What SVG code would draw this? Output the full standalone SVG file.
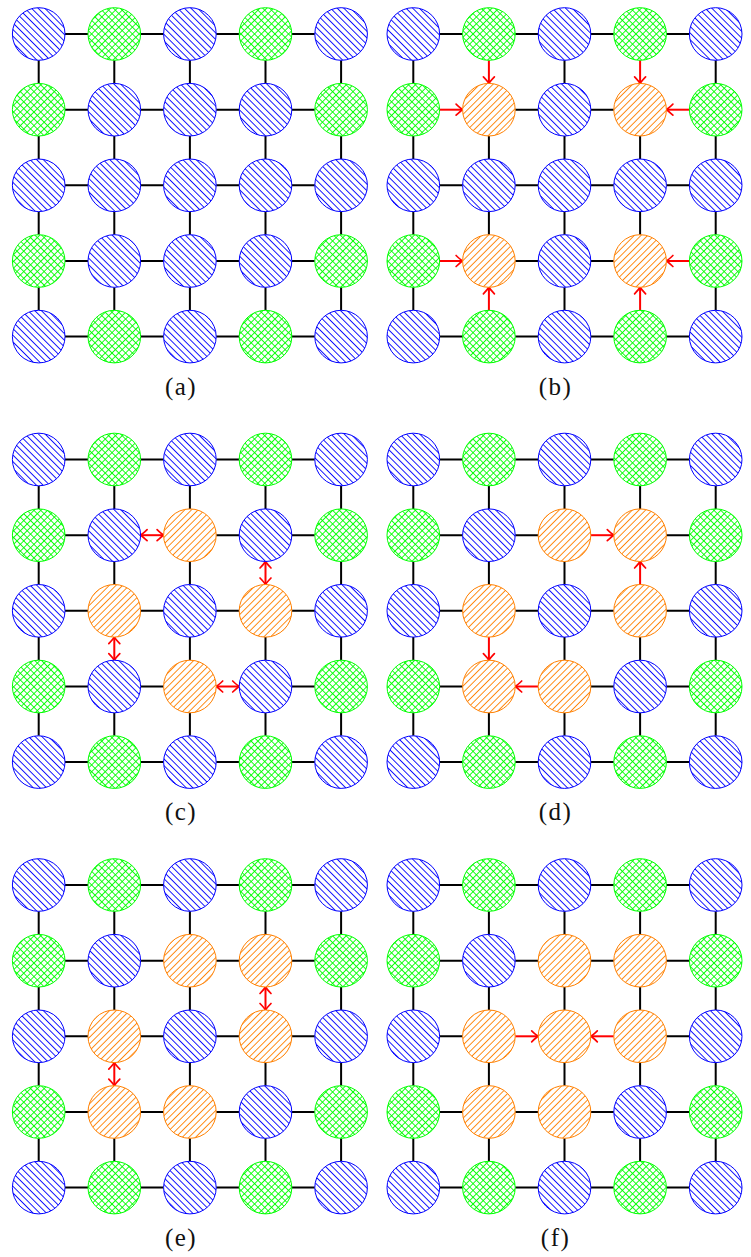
<svg xmlns="http://www.w3.org/2000/svg" width="751" height="1257" viewBox="0 0 751 1257">
<style>
.B{fill:url(#pB);stroke:#0000ff;stroke-width:1}
.G{fill:url(#pG);stroke:#00ff00;stroke-width:1}
.O{fill:url(#pO);stroke:#ff8000;stroke-width:1}
.e{fill:none;stroke:#000;stroke-width:2}
.a{fill:none;stroke:#ff0000;stroke-width:2;marker-end:url(#ah)}
.d{fill:none;stroke:#ff0000;stroke-width:2;marker-end:url(#ah);marker-start:url(#ah)}
.lbl{font-family:"Liberation Serif","Times New Roman",serif;font-size:25px;letter-spacing:1.5px;text-anchor:middle;fill:#111}
</style>
<defs>
<pattern id="pB" width="4.7" height="4.7" patternUnits="userSpaceOnUse" patternTransform="rotate(45)"><rect width="4.7" height="4.7" fill="#fff"/><line x1="-1" y1="2.35" x2="5.7" y2="2.35" stroke="#0000ff" stroke-width="0.9"/></pattern>
<pattern id="pO" width="4.7" height="4.7" patternUnits="userSpaceOnUse" patternTransform="rotate(-45)"><rect width="4.7" height="4.7" fill="#fff"/><line x1="-1" y1="2.35" x2="5.7" y2="2.35" stroke="#ff8000" stroke-width="0.9"/></pattern>
<pattern id="pG" width="4.8" height="4.8" patternUnits="userSpaceOnUse" patternTransform="rotate(45)"><rect width="4.8" height="4.8" fill="#fff"/><line x1="-1" y1="2.4" x2="5.8" y2="2.4" stroke="#00ff00" stroke-width="0.9"/><line x1="2.4" y1="-1" x2="2.4" y2="5.8" stroke="#00ff00" stroke-width="0.9"/></pattern>
<marker id="ah" viewBox="-8 -7 10 14" refX="0" refY="0" markerWidth="10" markerHeight="14" markerUnits="userSpaceOnUse" orient="auto-start-reverse" overflow="visible"><path d="M-6.5,-5.5 Q-2,-1.2 0,0 Q-2,1.2 -6.5,5.5" fill="none" stroke="#ff0000" stroke-width="1.7" stroke-linecap="round"/></marker>
</defs>
<rect width="751" height="1257" fill="#fff"/>
<g id="connectors">
<g id="edges-a">
<path class="e" d="M65 34H88M140.6 34H163.6M216.2 34H239.2M291.8 34H314.8M65 109.7H88M140.6 109.7H163.6M216.2 109.7H239.2M291.8 109.7H314.8M65 185.3H88M140.6 185.3H163.6M216.2 185.3H239.2M291.8 185.3H314.8M65 261H88M140.6 261H163.6M216.2 261H239.2M291.8 261H314.8M65 336.6H88M140.6 336.6H163.6M216.2 336.6H239.2M291.8 336.6H314.8M38.7 60.3V83.4M38.7 136V159M38.7 211.6V234.7M38.7 287.3V310.3M114.3 60.3V83.4M114.3 136V159M114.3 211.6V234.7M114.3 287.3V310.3M189.9 60.3V83.4M189.9 136V159M189.9 211.6V234.7M189.9 287.3V310.3M265.5 60.3V83.4M265.5 136V159M265.5 211.6V234.7M265.5 287.3V310.3M341.1 60.3V83.4M341.1 136V159M341.1 211.6V234.7M341.1 287.3V310.3"/>
</g>
<g id="edges-b" transform="translate(374.6,0)">
<path class="e" d="M65 34H88M140.6 34H163.6M216.2 34H239.2M291.8 34H314.8M140.6 109.7H163.6M216.2 109.7H239.2M65 185.3H88M140.6 185.3H163.6M216.2 185.3H239.2M291.8 185.3H314.8M140.6 261H163.6M216.2 261H239.2M65 336.6H88M140.6 336.6H163.6M216.2 336.6H239.2M291.8 336.6H314.8M38.7 60.3V83.4M38.7 136V159M38.7 211.6V234.7M38.7 287.3V310.3M114.3 136V159M114.3 211.6V234.7M189.9 60.3V83.4M189.9 136V159M189.9 211.6V234.7M189.9 287.3V310.3M265.5 136V159M265.5 211.6V234.7M341.1 60.3V83.4M341.1 136V159M341.1 211.6V234.7M341.1 287.3V310.3"/>
<path class="a" d="M114.3 60.3V83.4"/>
<path class="a" d="M65 109.7H88"/>
<path class="a" d="M265.5 60.3V83.4"/>
<path class="a" d="M314.8 109.7H291.8"/>
<path class="a" d="M65 261H88"/>
<path class="a" d="M114.3 310.3V287.3"/>
<path class="a" d="M314.8 261H291.8"/>
<path class="a" d="M265.5 310.3V287.3"/>
</g>
<g id="edges-c" transform="translate(0,425.5)">
<path class="e" d="M65 34H88M140.6 34H163.6M216.2 34H239.2M291.8 34H314.8M65 109.7H88M216.2 109.7H239.2M291.8 109.7H314.8M65 185.3H88M140.6 185.3H163.6M216.2 185.3H239.2M291.8 185.3H314.8M65 261H88M140.6 261H163.6M291.8 261H314.8M65 336.6H88M140.6 336.6H163.6M216.2 336.6H239.2M291.8 336.6H314.8M38.7 60.3V83.4M38.7 136V159M38.7 211.6V234.7M38.7 287.3V310.3M114.3 60.3V83.4M114.3 136V159M114.3 287.3V310.3M189.9 60.3V83.4M189.9 136V159M189.9 211.6V234.7M189.9 287.3V310.3M265.5 60.3V83.4M265.5 211.6V234.7M265.5 287.3V310.3M341.1 60.3V83.4M341.1 136V159M341.1 211.6V234.7M341.1 287.3V310.3"/>
<path class="d" d="M140.6 109.7H163.6"/>
<path class="d" d="M265.5 136V159"/>
<path class="d" d="M114.3 211.6V234.7"/>
<path class="d" d="M216.2 261H239.2"/>
</g>
<g id="edges-d" transform="translate(374.6,425.5)">
<path class="e" d="M65 34H88M140.6 34H163.6M216.2 34H239.2M291.8 34H314.8M65 109.7H88M140.6 109.7H163.6M291.8 109.7H314.8M65 185.3H88M140.6 185.3H163.6M216.2 185.3H239.2M291.8 185.3H314.8M65 261H88M216.2 261H239.2M291.8 261H314.8M65 336.6H88M140.6 336.6H163.6M216.2 336.6H239.2M291.8 336.6H314.8M38.7 60.3V83.4M38.7 136V159M38.7 211.6V234.7M38.7 287.3V310.3M114.3 60.3V83.4M114.3 136V159M114.3 287.3V310.3M189.9 60.3V83.4M189.9 136V159M189.9 211.6V234.7M189.9 287.3V310.3M265.5 60.3V83.4M265.5 211.6V234.7M265.5 287.3V310.3M341.1 60.3V83.4M341.1 136V159M341.1 211.6V234.7M341.1 287.3V310.3"/>
<path class="a" d="M216.2 109.7H239.2"/>
<path class="a" d="M265.5 159V136"/>
<path class="a" d="M114.3 211.6V234.7"/>
<path class="a" d="M163.6 261H140.6"/>
</g>
<g id="edges-e" transform="translate(0,851)">
<path class="e" d="M65 34H88M140.6 34H163.6M216.2 34H239.2M291.8 34H314.8M65 109.7H88M140.6 109.7H163.6M216.2 109.7H239.2M291.8 109.7H314.8M65 185.3H88M140.6 185.3H163.6M216.2 185.3H239.2M291.8 185.3H314.8M65 261H88M140.6 261H163.6M216.2 261H239.2M291.8 261H314.8M65 336.6H88M140.6 336.6H163.6M216.2 336.6H239.2M291.8 336.6H314.8M38.7 60.3V83.4M38.7 136V159M38.7 211.6V234.7M38.7 287.3V310.3M114.3 60.3V83.4M114.3 136V159M114.3 287.3V310.3M189.9 60.3V83.4M189.9 136V159M189.9 211.6V234.7M189.9 287.3V310.3M265.5 60.3V83.4M265.5 211.6V234.7M265.5 287.3V310.3M341.1 60.3V83.4M341.1 136V159M341.1 211.6V234.7M341.1 287.3V310.3"/>
<path class="d" d="M265.5 136V159"/>
<path class="d" d="M114.3 211.6V234.7"/>
</g>
<g id="edges-f" transform="translate(374.6,851)">
<path class="e" d="M65 34H88M140.6 34H163.6M216.2 34H239.2M291.8 34H314.8M65 109.7H88M140.6 109.7H163.6M216.2 109.7H239.2M291.8 109.7H314.8M65 185.3H88M291.8 185.3H314.8M65 261H88M140.6 261H163.6M216.2 261H239.2M291.8 261H314.8M65 336.6H88M140.6 336.6H163.6M216.2 336.6H239.2M291.8 336.6H314.8M38.7 60.3V83.4M38.7 136V159M38.7 211.6V234.7M38.7 287.3V310.3M114.3 60.3V83.4M114.3 136V159M114.3 211.6V234.7M114.3 287.3V310.3M189.9 60.3V83.4M189.9 136V159M189.9 211.6V234.7M189.9 287.3V310.3M265.5 60.3V83.4M265.5 136V159M265.5 211.6V234.7M265.5 287.3V310.3M341.1 60.3V83.4M341.1 136V159M341.1 211.6V234.7M341.1 287.3V310.3"/>
<path class="a" d="M140.6 185.3H163.6"/>
<path class="a" d="M239.2 185.3H216.2"/>
</g>
</g>
<g id="panel-a">
<g id="a00"><circle class="B" cx="38.7" cy="34" r="26.3"/></g>
<g id="a01"><circle class="G" cx="114.3" cy="34" r="26.3"/></g>
<g id="a02"><circle class="B" cx="189.9" cy="34" r="26.3"/></g>
<g id="a03"><circle class="G" cx="265.5" cy="34" r="26.3"/></g>
<g id="a04"><circle class="B" cx="341.1" cy="34" r="26.3"/></g>
<g id="a10"><circle class="G" cx="38.7" cy="109.7" r="26.3"/></g>
<g id="a11"><circle class="B" cx="114.3" cy="109.7" r="26.3"/></g>
<g id="a12"><circle class="B" cx="189.9" cy="109.7" r="26.3"/></g>
<g id="a13"><circle class="B" cx="265.5" cy="109.7" r="26.3"/></g>
<g id="a14"><circle class="G" cx="341.1" cy="109.7" r="26.3"/></g>
<g id="a20"><circle class="B" cx="38.7" cy="185.3" r="26.3"/></g>
<g id="a21"><circle class="B" cx="114.3" cy="185.3" r="26.3"/></g>
<g id="a22"><circle class="B" cx="189.9" cy="185.3" r="26.3"/></g>
<g id="a23"><circle class="B" cx="265.5" cy="185.3" r="26.3"/></g>
<g id="a24"><circle class="B" cx="341.1" cy="185.3" r="26.3"/></g>
<g id="a30"><circle class="G" cx="38.7" cy="261" r="26.3"/></g>
<g id="a31"><circle class="B" cx="114.3" cy="261" r="26.3"/></g>
<g id="a32"><circle class="B" cx="189.9" cy="261" r="26.3"/></g>
<g id="a33"><circle class="B" cx="265.5" cy="261" r="26.3"/></g>
<g id="a34"><circle class="G" cx="341.1" cy="261" r="26.3"/></g>
<g id="a40"><circle class="B" cx="38.7" cy="336.6" r="26.3"/></g>
<g id="a41"><circle class="G" cx="114.3" cy="336.6" r="26.3"/></g>
<g id="a42"><circle class="B" cx="189.9" cy="336.6" r="26.3"/></g>
<g id="a43"><circle class="G" cx="265.5" cy="336.6" r="26.3"/></g>
<g id="a44"><circle class="B" cx="341.1" cy="336.6" r="26.3"/></g>
<text class="lbl" x="181" y="394.5">(a)</text>
</g>
<g id="panel-b" transform="translate(374.6,0)">
<g id="b00"><circle class="B" cx="38.7" cy="34" r="26.3"/></g>
<g id="b01"><circle class="G" cx="114.3" cy="34" r="26.3"/></g>
<g id="b02"><circle class="B" cx="189.9" cy="34" r="26.3"/></g>
<g id="b03"><circle class="G" cx="265.5" cy="34" r="26.3"/></g>
<g id="b04"><circle class="B" cx="341.1" cy="34" r="26.3"/></g>
<g id="b10"><circle class="G" cx="38.7" cy="109.7" r="26.3"/></g>
<g id="b11"><circle class="O" cx="114.3" cy="109.7" r="26.3"/></g>
<g id="b12"><circle class="B" cx="189.9" cy="109.7" r="26.3"/></g>
<g id="b13"><circle class="O" cx="265.5" cy="109.7" r="26.3"/></g>
<g id="b14"><circle class="G" cx="341.1" cy="109.7" r="26.3"/></g>
<g id="b20"><circle class="B" cx="38.7" cy="185.3" r="26.3"/></g>
<g id="b21"><circle class="B" cx="114.3" cy="185.3" r="26.3"/></g>
<g id="b22"><circle class="B" cx="189.9" cy="185.3" r="26.3"/></g>
<g id="b23"><circle class="B" cx="265.5" cy="185.3" r="26.3"/></g>
<g id="b24"><circle class="B" cx="341.1" cy="185.3" r="26.3"/></g>
<g id="b30"><circle class="G" cx="38.7" cy="261" r="26.3"/></g>
<g id="b31"><circle class="O" cx="114.3" cy="261" r="26.3"/></g>
<g id="b32"><circle class="B" cx="189.9" cy="261" r="26.3"/></g>
<g id="b33"><circle class="O" cx="265.5" cy="261" r="26.3"/></g>
<g id="b34"><circle class="G" cx="341.1" cy="261" r="26.3"/></g>
<g id="b40"><circle class="B" cx="38.7" cy="336.6" r="26.3"/></g>
<g id="b41"><circle class="G" cx="114.3" cy="336.6" r="26.3"/></g>
<g id="b42"><circle class="B" cx="189.9" cy="336.6" r="26.3"/></g>
<g id="b43"><circle class="G" cx="265.5" cy="336.6" r="26.3"/></g>
<g id="b44"><circle class="B" cx="341.1" cy="336.6" r="26.3"/></g>
<text class="lbl" x="181" y="394.5">(b)</text>
</g>
<g id="panel-c" transform="translate(0,425.5)">
<g id="c00"><circle class="B" cx="38.7" cy="34" r="26.3"/></g>
<g id="c01"><circle class="G" cx="114.3" cy="34" r="26.3"/></g>
<g id="c02"><circle class="B" cx="189.9" cy="34" r="26.3"/></g>
<g id="c03"><circle class="G" cx="265.5" cy="34" r="26.3"/></g>
<g id="c04"><circle class="B" cx="341.1" cy="34" r="26.3"/></g>
<g id="c10"><circle class="G" cx="38.7" cy="109.7" r="26.3"/></g>
<g id="c11"><circle class="B" cx="114.3" cy="109.7" r="26.3"/></g>
<g id="c12"><circle class="O" cx="189.9" cy="109.7" r="26.3"/></g>
<g id="c13"><circle class="B" cx="265.5" cy="109.7" r="26.3"/></g>
<g id="c14"><circle class="G" cx="341.1" cy="109.7" r="26.3"/></g>
<g id="c20"><circle class="B" cx="38.7" cy="185.3" r="26.3"/></g>
<g id="c21"><circle class="O" cx="114.3" cy="185.3" r="26.3"/></g>
<g id="c22"><circle class="B" cx="189.9" cy="185.3" r="26.3"/></g>
<g id="c23"><circle class="O" cx="265.5" cy="185.3" r="26.3"/></g>
<g id="c24"><circle class="B" cx="341.1" cy="185.3" r="26.3"/></g>
<g id="c30"><circle class="G" cx="38.7" cy="261" r="26.3"/></g>
<g id="c31"><circle class="B" cx="114.3" cy="261" r="26.3"/></g>
<g id="c32"><circle class="O" cx="189.9" cy="261" r="26.3"/></g>
<g id="c33"><circle class="B" cx="265.5" cy="261" r="26.3"/></g>
<g id="c34"><circle class="G" cx="341.1" cy="261" r="26.3"/></g>
<g id="c40"><circle class="B" cx="38.7" cy="336.6" r="26.3"/></g>
<g id="c41"><circle class="G" cx="114.3" cy="336.6" r="26.3"/></g>
<g id="c42"><circle class="B" cx="189.9" cy="336.6" r="26.3"/></g>
<g id="c43"><circle class="G" cx="265.5" cy="336.6" r="26.3"/></g>
<g id="c44"><circle class="B" cx="341.1" cy="336.6" r="26.3"/></g>
<text class="lbl" x="181" y="394.5">(c)</text>
</g>
<g id="panel-d" transform="translate(374.6,425.5)">
<g id="d00"><circle class="B" cx="38.7" cy="34" r="26.3"/></g>
<g id="d01"><circle class="G" cx="114.3" cy="34" r="26.3"/></g>
<g id="d02"><circle class="B" cx="189.9" cy="34" r="26.3"/></g>
<g id="d03"><circle class="G" cx="265.5" cy="34" r="26.3"/></g>
<g id="d04"><circle class="B" cx="341.1" cy="34" r="26.3"/></g>
<g id="d10"><circle class="G" cx="38.7" cy="109.7" r="26.3"/></g>
<g id="d11"><circle class="B" cx="114.3" cy="109.7" r="26.3"/></g>
<g id="d12"><circle class="O" cx="189.9" cy="109.7" r="26.3"/></g>
<g id="d13"><circle class="O" cx="265.5" cy="109.7" r="26.3"/></g>
<g id="d14"><circle class="G" cx="341.1" cy="109.7" r="26.3"/></g>
<g id="d20"><circle class="B" cx="38.7" cy="185.3" r="26.3"/></g>
<g id="d21"><circle class="O" cx="114.3" cy="185.3" r="26.3"/></g>
<g id="d22"><circle class="B" cx="189.9" cy="185.3" r="26.3"/></g>
<g id="d23"><circle class="O" cx="265.5" cy="185.3" r="26.3"/></g>
<g id="d24"><circle class="B" cx="341.1" cy="185.3" r="26.3"/></g>
<g id="d30"><circle class="G" cx="38.7" cy="261" r="26.3"/></g>
<g id="d31"><circle class="O" cx="114.3" cy="261" r="26.3"/></g>
<g id="d32"><circle class="O" cx="189.9" cy="261" r="26.3"/></g>
<g id="d33"><circle class="B" cx="265.5" cy="261" r="26.3"/></g>
<g id="d34"><circle class="G" cx="341.1" cy="261" r="26.3"/></g>
<g id="d40"><circle class="B" cx="38.7" cy="336.6" r="26.3"/></g>
<g id="d41"><circle class="G" cx="114.3" cy="336.6" r="26.3"/></g>
<g id="d42"><circle class="B" cx="189.9" cy="336.6" r="26.3"/></g>
<g id="d43"><circle class="G" cx="265.5" cy="336.6" r="26.3"/></g>
<g id="d44"><circle class="B" cx="341.1" cy="336.6" r="26.3"/></g>
<text class="lbl" x="181" y="394.5">(d)</text>
</g>
<g id="panel-e" transform="translate(0,851)">
<g id="e00"><circle class="B" cx="38.7" cy="34" r="26.3"/></g>
<g id="e01"><circle class="G" cx="114.3" cy="34" r="26.3"/></g>
<g id="e02"><circle class="B" cx="189.9" cy="34" r="26.3"/></g>
<g id="e03"><circle class="G" cx="265.5" cy="34" r="26.3"/></g>
<g id="e04"><circle class="B" cx="341.1" cy="34" r="26.3"/></g>
<g id="e10"><circle class="G" cx="38.7" cy="109.7" r="26.3"/></g>
<g id="e11"><circle class="B" cx="114.3" cy="109.7" r="26.3"/></g>
<g id="e12"><circle class="O" cx="189.9" cy="109.7" r="26.3"/></g>
<g id="e13"><circle class="O" cx="265.5" cy="109.7" r="26.3"/></g>
<g id="e14"><circle class="G" cx="341.1" cy="109.7" r="26.3"/></g>
<g id="e20"><circle class="B" cx="38.7" cy="185.3" r="26.3"/></g>
<g id="e21"><circle class="O" cx="114.3" cy="185.3" r="26.3"/></g>
<g id="e22"><circle class="B" cx="189.9" cy="185.3" r="26.3"/></g>
<g id="e23"><circle class="O" cx="265.5" cy="185.3" r="26.3"/></g>
<g id="e24"><circle class="B" cx="341.1" cy="185.3" r="26.3"/></g>
<g id="e30"><circle class="G" cx="38.7" cy="261" r="26.3"/></g>
<g id="e31"><circle class="O" cx="114.3" cy="261" r="26.3"/></g>
<g id="e32"><circle class="O" cx="189.9" cy="261" r="26.3"/></g>
<g id="e33"><circle class="B" cx="265.5" cy="261" r="26.3"/></g>
<g id="e34"><circle class="G" cx="341.1" cy="261" r="26.3"/></g>
<g id="e40"><circle class="B" cx="38.7" cy="336.6" r="26.3"/></g>
<g id="e41"><circle class="G" cx="114.3" cy="336.6" r="26.3"/></g>
<g id="e42"><circle class="B" cx="189.9" cy="336.6" r="26.3"/></g>
<g id="e43"><circle class="G" cx="265.5" cy="336.6" r="26.3"/></g>
<g id="e44"><circle class="B" cx="341.1" cy="336.6" r="26.3"/></g>
<text class="lbl" x="181" y="394.5">(e)</text>
</g>
<g id="panel-f" transform="translate(374.6,851)">
<g id="f00"><circle class="B" cx="38.7" cy="34" r="26.3"/></g>
<g id="f01"><circle class="G" cx="114.3" cy="34" r="26.3"/></g>
<g id="f02"><circle class="B" cx="189.9" cy="34" r="26.3"/></g>
<g id="f03"><circle class="G" cx="265.5" cy="34" r="26.3"/></g>
<g id="f04"><circle class="B" cx="341.1" cy="34" r="26.3"/></g>
<g id="f10"><circle class="G" cx="38.7" cy="109.7" r="26.3"/></g>
<g id="f11"><circle class="B" cx="114.3" cy="109.7" r="26.3"/></g>
<g id="f12"><circle class="O" cx="189.9" cy="109.7" r="26.3"/></g>
<g id="f13"><circle class="O" cx="265.5" cy="109.7" r="26.3"/></g>
<g id="f14"><circle class="G" cx="341.1" cy="109.7" r="26.3"/></g>
<g id="f20"><circle class="B" cx="38.7" cy="185.3" r="26.3"/></g>
<g id="f21"><circle class="O" cx="114.3" cy="185.3" r="26.3"/></g>
<g id="f22"><circle class="O" cx="189.9" cy="185.3" r="26.3"/></g>
<g id="f23"><circle class="O" cx="265.5" cy="185.3" r="26.3"/></g>
<g id="f24"><circle class="B" cx="341.1" cy="185.3" r="26.3"/></g>
<g id="f30"><circle class="G" cx="38.7" cy="261" r="26.3"/></g>
<g id="f31"><circle class="O" cx="114.3" cy="261" r="26.3"/></g>
<g id="f32"><circle class="O" cx="189.9" cy="261" r="26.3"/></g>
<g id="f33"><circle class="B" cx="265.5" cy="261" r="26.3"/></g>
<g id="f34"><circle class="G" cx="341.1" cy="261" r="26.3"/></g>
<g id="f40"><circle class="B" cx="38.7" cy="336.6" r="26.3"/></g>
<g id="f41"><circle class="G" cx="114.3" cy="336.6" r="26.3"/></g>
<g id="f42"><circle class="B" cx="189.9" cy="336.6" r="26.3"/></g>
<g id="f43"><circle class="G" cx="265.5" cy="336.6" r="26.3"/></g>
<g id="f44"><circle class="B" cx="341.1" cy="336.6" r="26.3"/></g>
<text class="lbl" x="181" y="394.5">(f)</text>
</g>
</svg>
